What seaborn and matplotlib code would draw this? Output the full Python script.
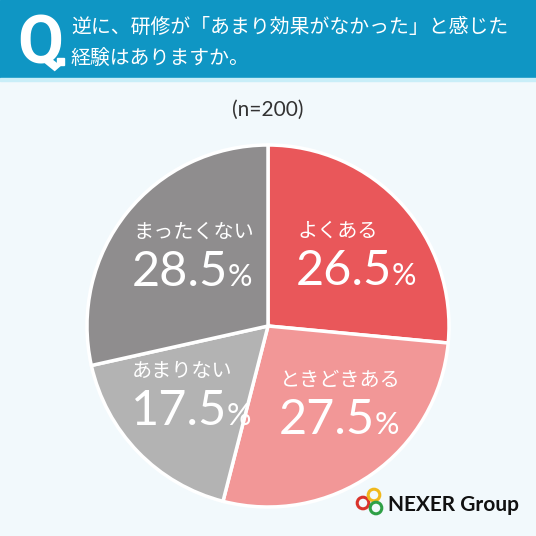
import matplotlib
matplotlib.use("Agg")
import matplotlib.pyplot as plt
import seaborn as sns
from matplotlib.patches import Rectangle, Circle

categories = ["よくある", "ときどきある", "あまりない", "まったくない"]
values = [26.5, 27.5, 17.5, 28.5]
value_labels = ["26.5", "27.5", "17.5", "28.5"]
colors = ["#e9575a", "#f29797", "#b3b3b3", "#8f8d8e"]
title_lines = ["逆に、研修が「あまり効果がなかった」と感じた", "経験はありますか。"]
n_label = "(n=200)"

sns.set_theme(style="white")
plt.rcParams['font.family'] = ['Noto Sans CJK JP', 'DejaVu Sans']

W = H = 536
fig = plt.figure(figsize=(W / 100, H / 100), dpi=100)
fig.patch.set_facecolor("#f2f9fc")

# pie axes: center (268, 326), radius 181 px
cx, cy, r = 268, 326, 181
pie_ax = fig.add_axes([(cx - r) / W, 1 - (cy + r) / H, 2 * r / W, 2 * r / H])
pie_ax.pie(values, colors=colors, startangle=90, counterclock=False,
           wedgeprops=dict(edgecolor="white", linewidth=2.5), radius=1.0)
pie_ax.set_xlim(-1, 1)
pie_ax.set_ylim(-1, 1)
pie_ax.set_aspect("equal")
pie_ax.axis("off")
pie_ax.set_zorder(1)

# overlay axes in pixel coordinates
bg = fig.add_axes([0, 0, 1, 1])
bg.set_xlim(0, W)
bg.set_ylim(H, 0)
bg.axis("off")
bg.set_zorder(3)
bg.patch.set_alpha(0)
bg.add_patch(Rectangle((0, 0), W, 78, color="#0f96c4", zorder=0))
bg.add_patch(Rectangle((0, 78), W, 3, color="#c9eef8", zorder=0))

bg.text(17, 63, "Q", color="white", fontsize=48,
        fontfamily=["Liberation Sans Narrow", "Roboto", "DejaVu Sans"],
        fontweight="bold", ha="left", va="baseline")
bg.add_patch(Rectangle((57, 58), 6.5, 7, color="white", zorder=2))
bg.text(71, 27, title_lines[0], color="white", fontsize=14.3, ha="left", va="center")
bg.text(71, 58, title_lines[1], color="white", fontsize=14.3, ha="left", va="center")

bg.text(268, 110, n_label, color="#333333", fontsize=15, ha="center", va="center",
        fontfamily=["Lato", "DejaVu Sans"])

# label positions (pixel) for each category
label_pos = [(297, 231), (280, 380), (132, 371), (133, 232)]
fig.canvas.draw()
for (x, y), cat, val in zip(label_pos, categories, value_labels):
    bg.text(x, y, cat, color="white", fontsize=14.5, ha="left", va="center", zorder=5)
    t = bg.text(x - 1, y + 54, val, color="white", fontsize=35,
                fontfamily=["Lato", "DejaVu Sans"], ha="left", va="baseline", zorder=5)
    fig.canvas.draw()
    bb = t.get_window_extent()
    x_end = bb.x1
    bg.text(x_end - 1, y + 54, "%", color="white", fontsize=22,
            fontfamily=["Lato", "DejaVu Sans"], ha="left", va="baseline", zorder=5)

# logo
for (lx, ly, c) in [(363, 503, "#d9342b"), (374, 495, "#f0b81c"), (376, 508, "#2ea046")]:
    bg.add_patch(Circle((lx, ly), 5.8, fill=False, edgecolor=c, linewidth=2.2, zorder=6))
bg.text(388, 505, "NEXER Group", color="#111111", fontsize=15, fontweight="bold",
        fontfamily=["Lato", "DejaVu Sans"], ha="left", va="center", zorder=6)

fig.savefig("out.png", dpi=100, facecolor=fig.get_facecolor())
